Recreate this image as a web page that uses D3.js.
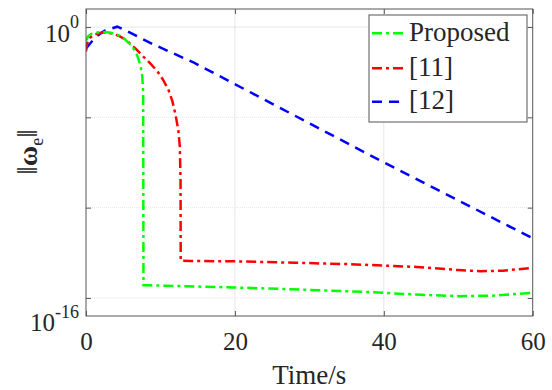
<!DOCTYPE html>
<meta charset="utf-8">
<style>
body { margin: 0; background: #fff; }
svg text { font-family: "Liberation Serif", "DejaVu Serif", serif; fill: #262626; }
.axis path, .axis line { stroke: #555; }
</style>
<svg width="552" height="390" font-family="Liberation Serif, DejaVu Serif, serif"></svg>
<script src="https://d3js.org/d3.v7.min.js"></script>
<script>
// values
var tGreen = [0, 0.3, 0.8, 1.5, 2.4, 3.3, 4.2, 5.0, 5.8, 6.4, 6.9, 7.3, 7.55, 7.68, 7.72, 8.5, 11, 20, 30, 38, 45, 50, 55, 60];
var vGreen = [0.178, 0.316, 0.437, 0.501, 0.525, 0.49, 0.38, 0.251, 0.126, 0.0631, 0.0251, 7.9e-3, 2.0e-3, 2.5e-4,
              5.1e-15, 5.0e-15, 4.7e-15, 3.8e-15, 2.8e-15, 2.1e-15, 1.5e-15, 1.26e-15, 1.35e-15, 1.9e-15];

var tRed = [0, 0.15, 0.5, 1.2, 2.0, 2.8, 3.6, 4.5, 5.3, 6.0, 6.8, 7.6, 8.6, 9.6, 10.4, 11.1, 11.6, 12.0, 12.4, 12.6, 12.7, 12.72,
            14, 20, 28, 35.5, 44.4, 50, 53, 56, 60];
var vRed = [0.0447, 0.126, 0.251, 0.398, 0.479, 0.501, 0.427, 0.316, 0.2, 0.112, 0.0562, 0.0251, 0.01, 3.55e-3, 1.12e-3,
            3.16e-4, 7.9e-5, 1.58e-5, 2.0e-6, 2.5e-7, 3.2e-9, 1.17e-13,
            1.12e-13, 1.07e-13, 8.9e-14, 7.4e-14, 5.2e-14, 3.5e-14, 3.0e-14, 3.2e-14, 4.7e-14];

var tBlue = [0, 1.3, 2.5, 4.2, 5.5, 9, 14.5, 40, 60];
var vBlue = [0.066, 0.282, 0.631, 1.047, 0.603, 0.112, 0.0107, 3.2e-8, 2.0e-12];

var seriesNames = ["Proposed", "[11]", "[12]"];
var xTicks = [0, 20, 40, 60];
var yTicks = [1e-15, 1e-10, 1e-5, 1e0];

var serif = "Liberation Serif, DejaVu Serif, serif";
var svg = d3.select("svg");
// plot box ("top" is taken by window.top, so use other names)
var pL = 86, pR = 532.7, pT = 9, pB = 316;

var x = d3.scaleLinear().domain([0, 60]).range([pL, pR]);
var y = d3.scaleLog().domain([1e-16, 10]).range([pB, pT]);

// grid
svg.append("g").selectAll("line").data(xTicks.slice(1, 3)).enter().append("line")
    .attr("x1", function(d) { return x(d); }).attr("x2", function(d) { return x(d); })
    .attr("y1", pT).attr("y2", pB)
    .attr("stroke", "#e6e6e6").attr("stroke-width", 1);
svg.append("g").selectAll("line").data(yTicks).enter().append("line")
    .attr("x1", pL).attr("x2", pR)
    .attr("y1", function(d) { return y(d); }).attr("y2", function(d) { return y(d); })
    .attr("stroke", "#e6e6e6").attr("stroke-width", 1)
    .attr("stroke-dasharray", function(d) { return d === 1 ? null : "1,1"; });

svg.append("defs").append("clipPath").attr("id", "clip")
  .append("rect").attr("x", pL).attr("y", pT).attr("width", pR - pL).attr("height", pB - pT);

var line = d3.line()
    .x(function(d) { return x(d[0]); })
    .y(function(d) { return y(d[1]); });

var series = [
  {name: seriesNames[0], t: tGreen, v: vGreen, color: "#00ff00", dash: "10,4,3,4"},
  {name: seriesNames[1], t: tRed, v: vRed, color: "#ff0000", dash: "10,4,3,4"},
  {name: seriesNames[2], t: tBlue, v: vBlue, color: "#0000ff", dash: "10,7"}
];

var plot = svg.append("g").attr("clip-path", "url(#clip)");
series.slice().reverse().forEach(function(s) {
  plot.append("path")
      .datum(d3.zip(s.t, s.v))
      .attr("d", line)
      .attr("fill", "none")
      .attr("stroke", s.color)
      .attr("stroke-width", 2.5)
      .attr("stroke-dasharray", s.dash);
});

// axes, ticks pointing inside
svg.append("g").attr("class", "axis").attr("transform", "translate(0," + pB + ")")
    .call(d3.axisBottom(x).tickValues(xTicks).tickSizeInner(-5).tickSizeOuter(0).tickPadding(16))
    .call(function(g) {
      g.attr("font-family", serif).attr("font-size", 25);
      g.selectAll("text").attr("fill", "#262626");
    });
svg.append("g").attr("class", "axis").attr("transform", "translate(0," + pT + ")")
    .call(d3.axisTop(x).tickValues(xTicks).tickSizeInner(-5).tickSizeOuter(0).tickFormat(""));
svg.append("g").attr("class", "axis").attr("transform", "translate(" + pL + ",0)")
    .call(d3.axisLeft(y).tickValues(yTicks).tickSizeInner(-5).tickSizeOuter(0).tickFormat(""));
svg.append("g").attr("class", "axis").attr("transform", "translate(" + pR + ",0)")
    .call(d3.axisRight(y).tickValues(yTicks).tickSizeInner(-5).tickSizeOuter(0).tickFormat(""));
svg.selectAll(".axis .domain").remove();
svg.append("rect").attr("x", pL).attr("y", pT).attr("width", pR - pL).attr("height", pB - pT)
    .attr("fill", "none").attr("stroke", "#555").attr("stroke-width", 1);

// y tick labels 10^0 and 10^-16
var yLabels = [{v: 1, exp: "0", shift: -14.7}, {v: 1e-16, exp: "-16", shift: -13.7}];
yLabels.forEach(function(d) {
  var t = svg.append("text").attr("x", 79).attr("y", y(d.v) + 15.2).attr("text-anchor", "end")
      .attr("font-family", serif).attr("font-size", 25);
  t.append("tspan").text("10");
  t.append("tspan").attr("dy", d.shift).attr("font-size", 18).text(d.exp);
});

svg.append("text").attr("x", (pL + pR) / 2).attr("y", 383.5).attr("text-anchor", "middle")
    .attr("font-family", serif).attr("font-size", 27).text("Time/s");

// y label ||w_e||
var yl = svg.append("text").attr("transform", "translate(37,152) rotate(-90)")
    .attr("text-anchor", "middle").attr("font-family", serif).attr("font-size", 27);
yl.append("tspan").attr("font-size", 30).text("\u2016");
yl.append("tspan").attr("font-weight", "bold").attr("font-size", 28).text("\u03c9");
yl.append("tspan").attr("dy", 6).attr("font-size", 18).text("e");
yl.append("tspan").attr("dy", -6).attr("font-size", 30).text("\u2016");

// legend
var lg = svg.append("g");
lg.append("rect").attr("x", 369).attr("y", 15).attr("width", 158).attr("height", 107)
    .attr("fill", "#fff").attr("stroke", "#555").attr("stroke-width", 1);
var rowY = [33.3, 68.3, 101.7];
series.forEach(function(s, i) {
  lg.append("line").attr("x1", 372).attr("x2", 403).attr("y1", rowY[i]).attr("y2", rowY[i])
    .attr("stroke", s.color).attr("stroke-width", 2.5).attr("stroke-dasharray", s.dash);
  lg.append("text").attr("x", 409).attr("y", rowY[i] + 7.5)
    .attr("font-family", serif).attr("font-size", 27).text(s.name);
});
</script>
